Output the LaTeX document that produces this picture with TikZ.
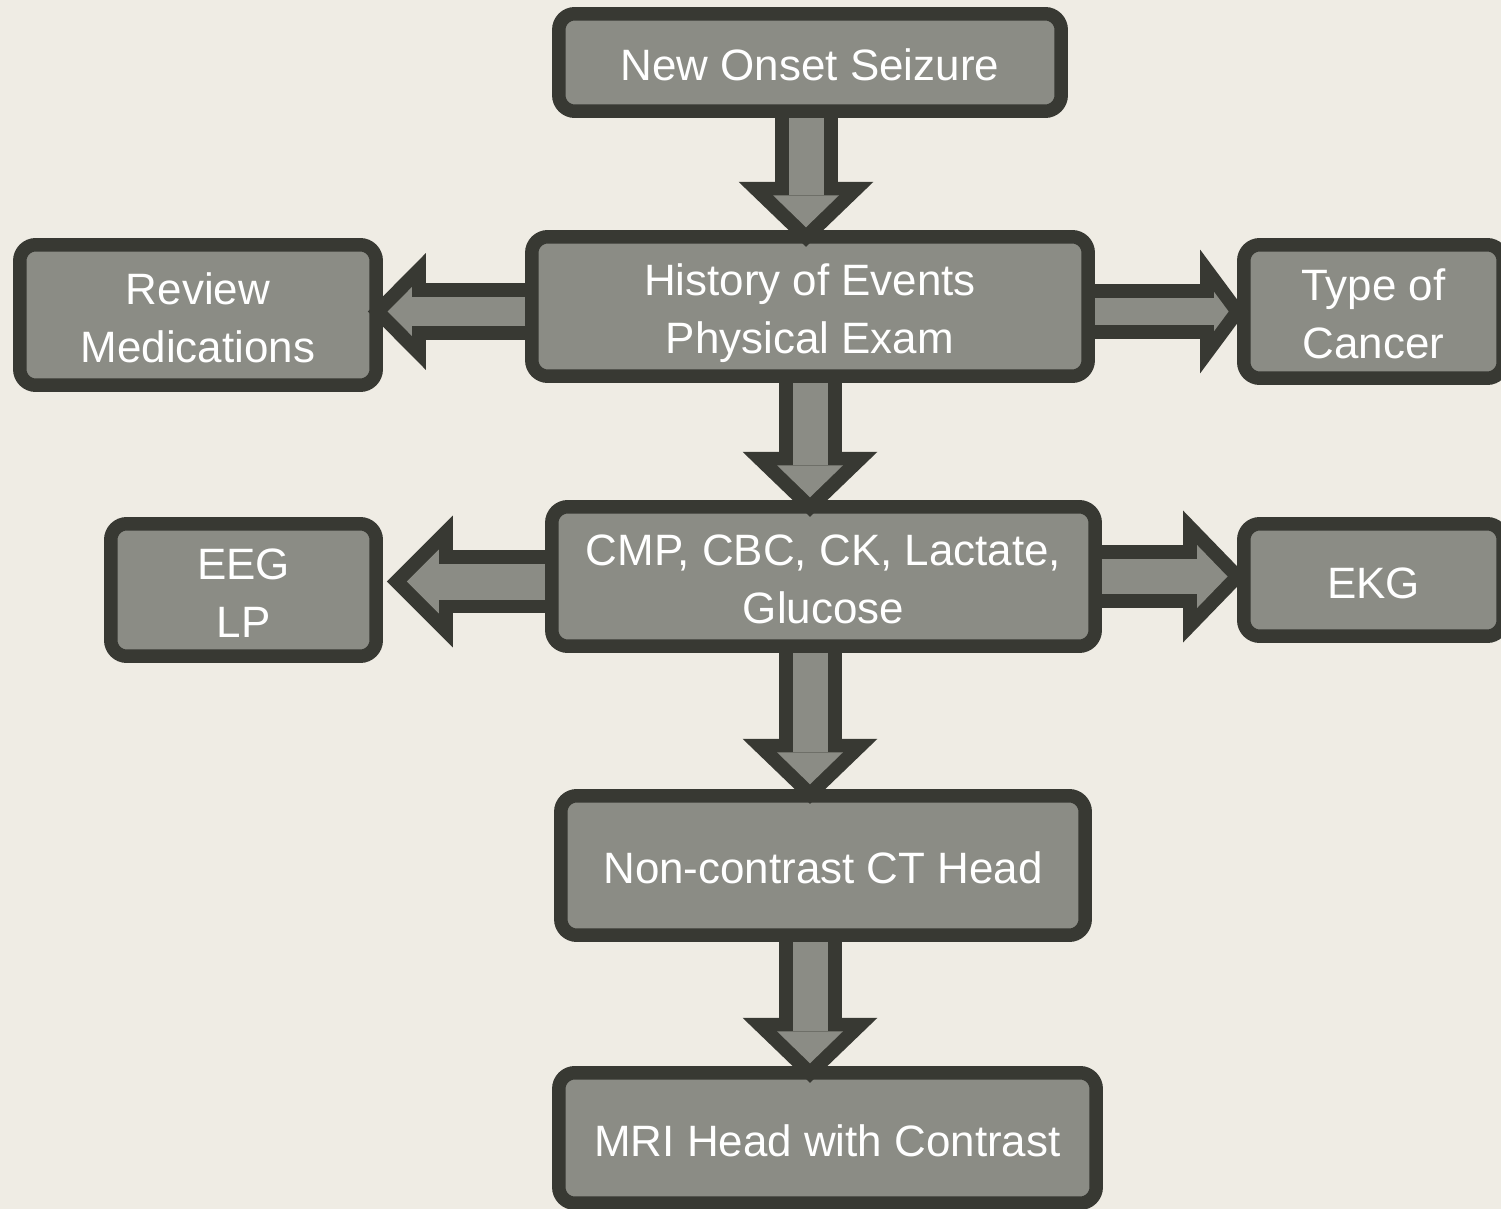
\documentclass[tikz,border=0pt]{standalone}
\usepackage{fontspec}
\setmainfont{Liberation Sans}
\usetikzlibrary{arrows.meta}
\definecolor{papercol}{RGB}{239,236,228}
\definecolor{boxgray}{RGB}{139,140,133}
\definecolor{rimgray}{RGB}{56,57,51}

\begin{document}
\begin{tikzpicture}[x=0.02cm, y=-0.02cm,
block/.style = {rectangle, rounded corners=0.32cm, draw=rimgray, line width=0.27cm, fill=boxgray, text=white, align=center, inner sep=0pt, outer sep=0pt, text height=21pt, text depth=0pt, font=\fontsize{25}{33}\selectfont},
twoline/.style = {text height=54pt},
shell/.style n args = {3}{rimgray, line width=#1, -{Triangle[width=#2, length=#3, line width=0pt]}},
core/.style n args = {3}{boxgray, line width=#1, -{Triangle[width=#2, length=#3, line width=0pt]}, shorten <=0.135cm}]

\useasboundingbox (0,0) rectangle (1501,1209);
\fill[papercol] (0,0) rectangle (1501,1209);
\clip (0,0) rectangle (1501,1209);

\node[block, minimum width=10.05cm, minimum height=1.95cm] (seizure) at (810,62.5) {New Onset Seizure};
\node[block, twoline, minimum width=11.13cm, minimum height=2.79cm] (hist) at (810,306.5) {History of Events\\Physical Exam};
\node[block, twoline, minimum width=7.13cm, minimum height=2.81cm] (review) at (198,315) {Review\\Medications};
\node[block, twoline, minimum width=5.19cm, minimum height=2.67cm] (type) at (1373.5,311.5) {Type of\\Cancer};
\node[block, twoline, minimum width=10.87cm, minimum height=2.79cm] (cmp) at (823.5,576.5) {CMP, CBC, CK, Lactate,\\Glucose};
\node[block, twoline, minimum width=5.31cm, minimum height=2.65cm] (eeg) at (243.5,590) {EEG\\LP};
\node[block, minimum width=5.19cm, minimum height=2.25cm] (ekg) at (1373.5,580) {EKG};
\node[block, minimum width=10.49cm, minimum height=2.79cm] (ct) at (823,865.5) {Non-contrast CT Head};
\node[block, minimum width=10.75cm, minimum height=2.61cm] (mri) at (827.5,1138) {MRI Head with Contrast};

\draw[shell={1.26cm}{2.7cm}{1.3cm}, shorten >=-0.2cm] ([xshift=-0.08cm]seizure.south) -- ([xshift=-0.08cm]hist.north);
\draw[core={0.7cm}{1.32cm}{0.64cm}, shorten >=0.19cm] ([xshift=-0.08cm]seizure.south) -- ([xshift=-0.08cm]hist.north);
\draw[shell={1.26cm}{2.7cm}{1.3cm}, shorten >=-0.2cm] (hist.south) -- (cmp.north -| hist.south);
\draw[core={0.7cm}{1.32cm}{0.64cm}, shorten >=0.19cm] (hist.south) -- (cmp.north -| hist.south);
\draw[shell={1.26cm}{2.7cm}{1.3cm}, shorten >=-0.16cm] (cmp.south -| hist.south) -- (ct.north -| hist.south);
\draw[core={0.7cm}{1.32cm}{0.64cm}, shorten >=0.23cm] (cmp.south -| hist.south) -- (ct.north -| hist.south);
\draw[shell={1.26cm}{2.7cm}{1.3cm}, shorten >=-0.2cm] (ct.south -| hist.south) -- (mri.north -| hist.south);
\draw[core={0.7cm}{1.32cm}{0.64cm}, shorten >=0.19cm] (ct.south -| hist.south) -- (mri.north -| hist.south);

\draw[shell={1.14cm}{2.34cm}{1.16cm}, shorten >=-0.165cm] ([yshift=0.07cm]review.east -| hist.west) -- ([yshift=0.07cm]review.east);
\draw[core={0.58cm}{0.98cm}{0.486cm}, shorten >=0.229cm] ([yshift=0.07cm]review.east -| hist.west) -- ([yshift=0.07cm]review.east);
\draw[shell={1.1cm}{2.48cm}{0.92cm}, shorten >=-0.045cm] (type.west -| hist.east) -- (type.west);
\draw[core={0.54cm}{0.78cm}{0.29cm}, shorten >=0.303cm] (type.west -| hist.east) -- (type.west);
\draw[shell={1.28cm}{2.64cm}{1.32cm}, shorten >=0.215cm] ([yshift=0.17cm]eeg.east -| cmp.west) -- ([yshift=0.17cm]eeg.east);
\draw[core={0.72cm}{1.28cm}{0.64cm}, shorten >=0.611cm] ([yshift=0.17cm]eeg.east -| cmp.west) -- ([yshift=0.17cm]eeg.east);
\draw[shell={1.28cm}{2.64cm}{1.28cm}, shorten >=-0.065cm] ([yshift=0.07cm]ekg.west -| cmp.east) -- ([yshift=0.07cm]ekg.west);
\draw[core={0.72cm}{1.26cm}{0.61cm}, shorten >=0.325cm] ([yshift=0.07cm]ekg.west -| cmp.east) -- ([yshift=0.07cm]ekg.west);
\end{tikzpicture}
\end{document}
